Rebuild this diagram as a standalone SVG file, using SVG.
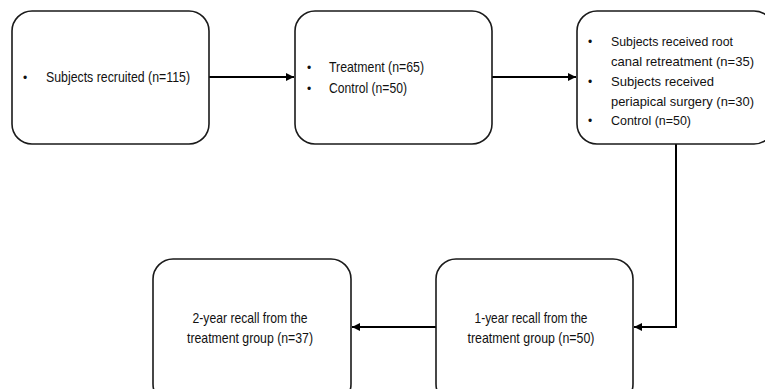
<svg xmlns="http://www.w3.org/2000/svg" width="765" height="389" viewBox="0 0 765 389">
<defs>
<style>
.box{fill:#fff;stroke:#1a1a1a;stroke-width:1.6}
.t{font-family:"Liberation Sans",Arial,sans-serif;font-size:15px;fill:#111}
.s{font-size:13.5px}
.b{font-size:12px}
.c{text-anchor:middle}
.edge{fill:none;stroke:#000;stroke-width:2}
</style>
<marker id="ah" viewBox="0 0 10 10" refX="10" refY="5" markerWidth="4" markerHeight="4" orient="auto" markerUnits="strokeWidth">
<path d="M0,0 L10,5 L0,10 z" fill="#000"/>
</marker>
</defs>
<rect width="765" height="389" fill="#fff"/>
<g id="connectors">
<path class="edge" d="M209,77 H294" marker-end="url(#ah)"/>
<path class="edge" d="M492,77 H576" marker-end="url(#ah)"/>
<path class="edge" d="M676,144 V327 H634" marker-end="url(#ah)"/>
<path class="edge" d="M436,327 H352" marker-end="url(#ah)"/>
</g>
<g id="n1">
<rect class="box" x="12" y="11" width="197" height="133" rx="20"/>
<text class="t b" x="23" y="82">•</text>
<text class="t" x="46" y="82" textLength="144" lengthAdjust="spacingAndGlyphs">Subjects recruited (n=115)</text>
</g>
<g id="n2">
<rect class="box" x="295" y="11" width="197" height="133" rx="20"/>
<text class="t b" x="307" y="72">•</text>
<text class="t" x="329" y="72" textLength="95" lengthAdjust="spacingAndGlyphs">Treatment (n=65)</text>
<text class="t b" x="307" y="93">•</text>
<text class="t" x="329" y="93" textLength="78" lengthAdjust="spacingAndGlyphs">Control (n=50)</text>
</g>
<g id="n3">
<rect class="box" x="577" y="11" width="197" height="133" rx="20"/>
<text class="t b" x="588" y="46">•</text>
<text class="t s" x="611" y="46" textLength="122" lengthAdjust="spacingAndGlyphs">Subjects received root</text>
<text class="t s" x="611" y="66" textLength="143" lengthAdjust="spacingAndGlyphs">canal retreatment (n=35)</text>
<text class="t b" x="588" y="86">•</text>
<text class="t s" x="611" y="86" textLength="103" lengthAdjust="spacingAndGlyphs">Subjects received</text>
<text class="t s" x="611" y="106" textLength="143" lengthAdjust="spacingAndGlyphs">periapical surgery (n=30)</text>
<text class="t b" x="588" y="125">•</text>
<text class="t s" x="611" y="125" textLength="80" lengthAdjust="spacingAndGlyphs">Control (n=50)</text>
</g>
<g id="n4">
<rect class="box" x="436" y="259" width="197" height="145" rx="20"/>
<text class="t c" x="531" y="323" textLength="113" lengthAdjust="spacingAndGlyphs">1-year recall from the</text>
<text class="t c" x="531" y="343" textLength="127" lengthAdjust="spacingAndGlyphs">treatment group (n=50)</text>
</g>
<g id="n5">
<rect class="box" x="153" y="259" width="198" height="145" rx="20"/>
<text class="t c" x="250" y="323" textLength="115" lengthAdjust="spacingAndGlyphs">2-year recall from the</text>
<text class="t c" x="250" y="343" textLength="126" lengthAdjust="spacingAndGlyphs">treatment group (n=37)</text>
</g>
</svg>
